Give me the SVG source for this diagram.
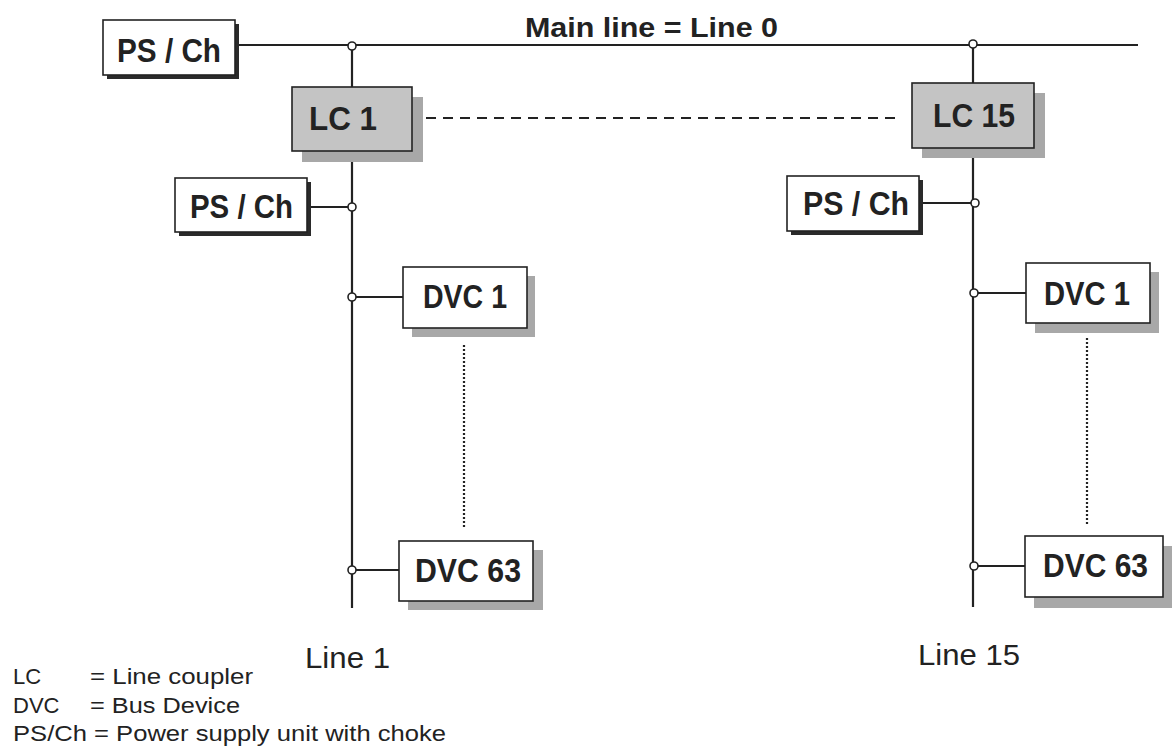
<svg xmlns="http://www.w3.org/2000/svg" width="1173" height="749" viewBox="0 0 1173 749">
<style>
.box{fill:#ffffff;stroke:#222;stroke-width:1.6}
.lc{fill:#c4c4c4;stroke:#222;stroke-width:1.6}
.shd{fill:#2a2a2a}
.shg{fill:#a8a8a8}
.lbl{font-family:"Liberation Sans",Arial,sans-serif;font-weight:bold;font-size:33px;fill:#222}
.txt{font-family:"Liberation Sans",Arial,sans-serif;font-size:22px;fill:#222}
.ln{stroke:#222;stroke-width:2.2;fill:none}
.jn{fill:#fff;stroke:#222;stroke-width:1.6}
</style>
<rect width="1173" height="749" fill="#ffffff"/>
<g id="connectors">
<line class="ln" x1="235" y1="45" x2="1138" y2="45"/>
<line class="ln" x1="352" y1="45" x2="352" y2="87"/>
<line class="ln" x1="352" y1="151" x2="352" y2="608"/>
<line class="ln" x1="973" y1="45" x2="973" y2="83"/>
<line class="ln" x1="973" y1="148" x2="973" y2="607"/>
<line class="ln" x1="307" y1="207" x2="352" y2="207"/>
<line class="ln" x1="352" y1="297" x2="403" y2="297"/>
<line class="ln" x1="352" y1="570" x2="399" y2="570"/>
<line class="ln" x1="919" y1="203" x2="973" y2="203"/>
<line class="ln" x1="973" y1="293" x2="1026" y2="293"/>
<line class="ln" x1="973" y1="566" x2="1025" y2="566"/>
<line class="ln" x1="426" y1="118" x2="900" y2="118" stroke-dasharray="10,7" stroke-width="1.6"/>
<line class="ln" x1="464" y1="345" x2="464" y2="527" stroke-dasharray="2,2" stroke-width="2.5"/>
<line class="ln" x1="1087" y1="338" x2="1087" y2="525" stroke-dasharray="2,2" stroke-width="2.5"/>
<circle class="jn" cx="352" cy="46" r="4"/>
<circle class="jn" cx="973" cy="44" r="4"/>
<circle class="jn" cx="352" cy="207" r="4"/>
<circle class="jn" cx="352" cy="297" r="4"/>
<circle class="jn" cx="352" cy="570" r="4"/>
<circle class="jn" cx="975" cy="203" r="4"/>
<circle class="jn" cx="974" cy="293" r="4"/>
<circle class="jn" cx="974" cy="566" r="4"/>
</g>
<g id="ps-main">
<rect class="shd" x="107" y="24" width="132" height="55"/>
<rect class="box" x="103" y="20" width="132" height="55"/>
<text class="lbl" x="117" y="62" textLength="104" lengthAdjust="spacingAndGlyphs">PS / Ch</text>
</g>
<g id="lc1">
<rect class="shg" x="302" y="97" width="121" height="65"/>
<rect class="lc" x="292" y="87" width="120" height="64"/>
<text class="lbl" x="309" y="130" textLength="68" lengthAdjust="spacingAndGlyphs">LC 1</text>
</g>
<g id="lc15">
<rect class="shg" x="922" y="93" width="123" height="65"/>
<rect class="lc" x="912" y="83" width="122" height="65"/>
<text class="lbl" x="933" y="127" textLength="82" lengthAdjust="spacingAndGlyphs">LC 15</text>
</g>
<g id="ps-line1">
<rect class="shd" x="179" y="182" width="132" height="54"/>
<rect class="box" x="175" y="178" width="132" height="54"/>
<text class="lbl" x="190" y="218" textLength="103" lengthAdjust="spacingAndGlyphs">PS / Ch</text>
</g>
<g id="ps-line15">
<rect class="shd" x="791" y="180" width="132" height="55"/>
<rect class="box" x="787" y="176" width="132" height="55"/>
<text class="lbl" x="803" y="215" textLength="106" lengthAdjust="spacingAndGlyphs">PS / Ch</text>
</g>
<g id="dvc1-line1">
<rect class="shg" x="412" y="276" width="123" height="61"/>
<rect class="box" x="403" y="267" width="124" height="61"/>
<text class="lbl" x="423" y="308" textLength="84" lengthAdjust="spacingAndGlyphs">DVC 1</text>
</g>
<g id="dvc63-line1">
<rect class="shg" x="408" y="550" width="135" height="60"/>
<rect class="box" x="399" y="541" width="134" height="60"/>
<text class="lbl" x="415" y="582" textLength="106" lengthAdjust="spacingAndGlyphs">DVC 63</text>
</g>
<g id="dvc1-line15">
<rect class="shg" x="1035" y="272" width="124" height="61"/>
<rect class="box" x="1026" y="263" width="124" height="60"/>
<text class="lbl" x="1044" y="305" textLength="86" lengthAdjust="spacingAndGlyphs">DVC 1</text>
</g>
<g id="dvc63-line15">
<rect class="shg" x="1034" y="546" width="138" height="62"/>
<rect class="box" x="1025" y="536" width="138" height="61"/>
<text class="lbl" x="1043" y="577" textLength="105" lengthAdjust="spacingAndGlyphs">DVC 63</text>
</g>
<g id="labels">
<text class="lbl" x="525" y="37" textLength="253" lengthAdjust="spacingAndGlyphs" style="font-size:28px">Main line = Line 0</text>
<text class="txt" x="305" y="668" textLength="85" lengthAdjust="spacingAndGlyphs" style="font-size:29px">Line 1</text>
<text class="txt" x="918" y="665" textLength="102" lengthAdjust="spacingAndGlyphs" style="font-size:29px">Line 15</text>
<text class="txt" x="13" y="684">LC</text>
<text class="txt" x="90" y="684" textLength="163" lengthAdjust="spacingAndGlyphs">= Line coupler</text>
<text class="txt" x="13" y="713">DVC</text>
<text class="txt" x="90" y="713" textLength="150" lengthAdjust="spacingAndGlyphs">= Bus Device</text>
<text class="txt" x="13" y="741" textLength="433" lengthAdjust="spacingAndGlyphs">PS/Ch = Power supply unit with choke</text>
</g>
</svg>
